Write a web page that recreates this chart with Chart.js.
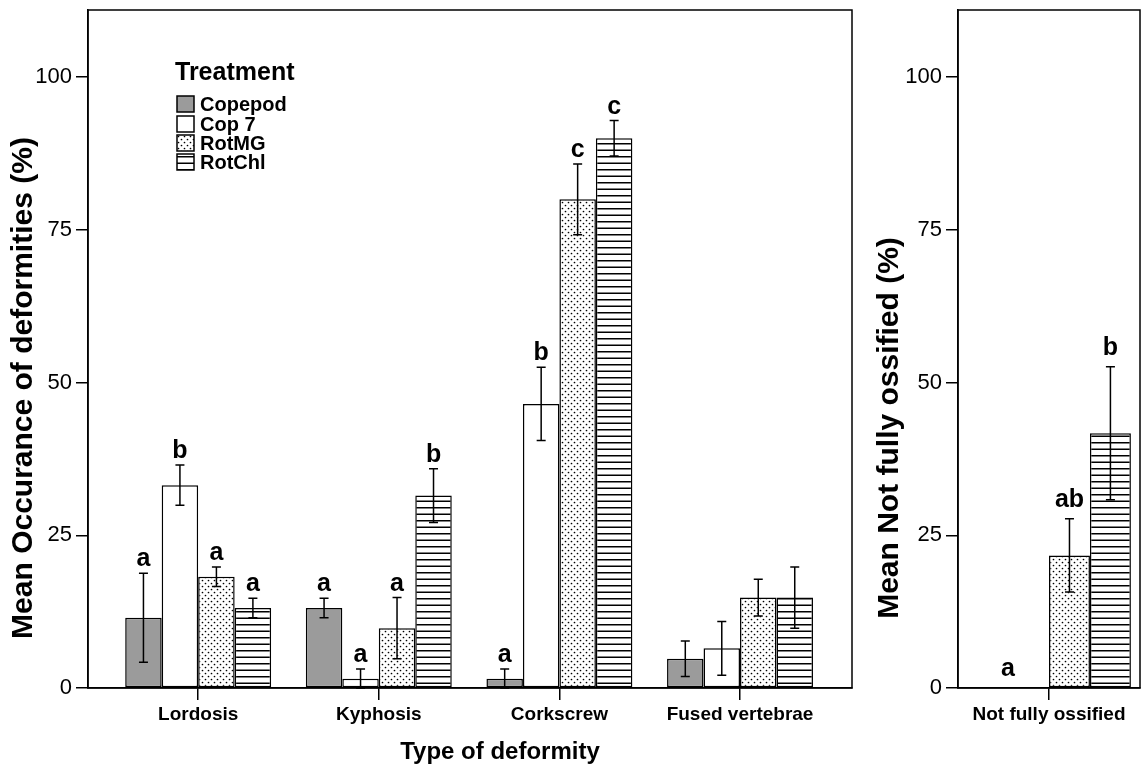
<!DOCTYPE html>
<html>
<head>
<meta charset="utf-8">
<script src="https://cdn.jsdelivr.net/npm/chart.js@4.4.1/dist/chart.umd.min.js"></script>
<style>
  body { margin: 0; background: #fff; }
  #wrap { position: relative; width: 1144px; height: 775px; }
  #left { position: absolute; left: 0; top: 0; }
  #right { position: absolute; left: 860px; top: 0; }
</style>
</head>
<body>
<div id="wrap">
  <canvas id="left" width="860" height="775"></canvas>
  <canvas id="right" width="284" height="775"></canvas>
</div>
<script>
// ---- data ----
const deformities = ['Lordosis', 'Kyphosis', 'Corkscrew', 'Fused vertebrae'];
const treatments = ['Copepod', 'Cop 7', 'RotMG', 'RotChl'];
const yTicks = [0, 25, 50, 75, 100];

// mean occurance (%), one value per deformity
const copepodMean = [11.5, 13.1, 1.5, 4.8];
const cop7Mean = [33.2, 1.5, 46.5, 6.5];
const rotMGMean = [18.2, 9.8, 80.0, 14.8];
const rotChlMean = [13.1, 31.5, 90.0, 14.8];

// error bar half lengths
const copepodErr = [7.3, 1.6, 1.6, 2.9];
const cop7Err = [3.3, 1.6, 6.0, 4.4];
const rotMGErr = [1.6, 5.0, 5.8, 3.0];
const rotChlErr = [1.6, 4.4, 2.9, 5.0];

// significance letters
const copepodLetters = ['a', 'a', 'a', ''];
const cop7Letters = ['b', 'a', 'b', ''];
const rotMGLetters = ['a', 'a', 'c', ''];
const rotChlLetters = ['a', 'b', 'c', ''];

// right panel: not fully ossified, one value per treatment
const ossifiedCategory = ['Not fully ossified'];
const ossifiedMean = [0, 0, 21.7, 41.7];
const ossifiedErr = [0, 0, 6.0, 10.9];
const ossifiedLetters = ['a', 'a', 'ab', 'b'];

const FONT = "'Liberation Sans', Arial, Helvetica, sans-serif";
Chart.defaults.font.family = FONT;
Chart.defaults.color = '#000';

// ---- fills ----
function makeFills(ctx) {
  const dot = document.createElement('canvas');
  dot.width = 6; dot.height = 6;
  let g = dot.getContext('2d');
  g.fillStyle = '#fff'; g.fillRect(0, 0, 6, 6);
  g.fillStyle = '#000';
  g.beginPath(); g.arc(1.5, 1.5, 0.85, 0, Math.PI * 2); g.fill();
  g.beginPath(); g.arc(4.5, 4.5, 0.85, 0, Math.PI * 2); g.fill();

  const hl = document.createElement('canvas');
  hl.width = 4; hl.height = 13;
  g = hl.getContext('2d');
  g.fillStyle = '#fff'; g.fillRect(0, 0, 4, 13);
  g.fillStyle = '#000';
  g.fillRect(0, 0, 4, 1.5);
  g.fillRect(0, 6.5, 4, 1.5);

  return ['#9b9b9b', '#ffffff', ctx.createPattern(dot, 'repeat'), ctx.createPattern(hl, 'repeat')];
}

// ---- plugins ----
const valueOf = d => (typeof d === 'number' ? d : d.y);

const errorBars = {
  id: 'errorBars',
  afterDatasetsDraw(chart) {
    const ctx = chart.ctx, y = chart.scales.y;
    ctx.save();
    ctx.strokeStyle = '#000';
    ctx.lineWidth = 1.5;
    chart.data.datasets.forEach((ds, di) => {
      chart.getDatasetMeta(di).data.forEach((bar, i) => {
        const e = ds.err[i];
        if (!e) return;
        const v = valueOf(ds.data[i]);
        const top = y.getPixelForValue(v + e);
        const bot = y.getPixelForValue(Math.max(0, v - e));
        ctx.beginPath();
        ctx.moveTo(bar.x, top); ctx.lineTo(bar.x, bot);
        ctx.moveTo(bar.x - 4.5, top); ctx.lineTo(bar.x + 4.5, top);
        ctx.moveTo(bar.x - 4.5, bot); ctx.lineTo(bar.x + 4.5, bot);
        ctx.stroke();
      });
    });
    ctx.restore();
  }
};

const letters = {
  id: 'letters',
  afterDatasetsDraw(chart, args, opts) {
    const ctx = chart.ctx, y = chart.scales.y;
    const n = chart.data.datasets[0].data.length;
    ctx.save();
    ctx.font = 'bold 25px ' + FONT;
    ctx.fillStyle = '#000';
    ctx.textAlign = 'center';
    ctx.textBaseline = 'alphabetic';
    for (let i = 0; i < n; i++) {
      const items = [];
      chart.data.datasets.forEach((ds, di) => {
        const t = ds.letters[i];
        if (!t) return;
        const top = y.getPixelForValue(valueOf(ds.data[i]) + ds.err[i]);
        const x = chart.getDatasetMeta(di).data[i].x;
        const last = items[items.length - 1];
        if (last && last.t === t && Math.abs(last.top - top) < 0.5) {
          last.xs.push(x);
        } else {
          items.push({ t, top, xs: [x] });
        }
      });
      items.forEach(it => {
        const x = it.xs.reduce((a, b) => a + b, 0) / it.xs.length;
        ctx.fillText(it.t, x, it.top - opts.offset);
      });
    }
    ctx.restore();
  }
};

const frame = {
  id: 'frame',
  afterDatasetsDraw(chart) {
    const { ctx, chartArea: a } = chart;
    ctx.save();
    ctx.strokeStyle = '#000';
    ctx.lineWidth = 1.5;
    ctx.strokeRect(a.left, a.top, a.right - a.left, a.bottom - a.top);
    ctx.restore();
  }
};

const titles = {
  id: 'titles',
  afterDraw(chart, args, opts) {
    const ctx = chart.ctx;
    ctx.save();
    ctx.fillStyle = '#000';
    ctx.textAlign = 'center';
    ctx.textBaseline = 'middle';
    opts.items.forEach(t => {
      ctx.save();
      ctx.font = 'bold ' + t.size + 'px ' + FONT;
      ctx.translate(t.x, t.y);
      if (t.rotate) ctx.rotate(-Math.PI / 2);
      ctx.fillText(t.text, 0, 0);
      ctx.restore();
    });
    ctx.restore();
  }
};

const treatmentLegend = {
  id: 'treatmentLegend',
  afterDraw(chart) {
    const ctx = chart.ctx;
    const rows = [104, 124, 143, 162];
    ctx.save();
    ctx.fillStyle = '#000';
    ctx.textAlign = 'left';
    ctx.textBaseline = 'middle';
    ctx.font = 'bold 25px ' + FONT;
    ctx.fillText('Treatment', 175, 73);
    ctx.font = 'bold 20px ' + FONT;
    chart.data.datasets.forEach((ds, i) => {
      const cy = rows[i];
      ctx.fillStyle = ds.backgroundColor;
      ctx.fillRect(177, cy - 8, 17, 16);
      ctx.strokeStyle = '#000';
      ctx.lineWidth = 1.5;
      ctx.strokeRect(177, cy - 8, 17, 16);
      ctx.fillStyle = '#000';
      ctx.fillText(ds.label, 200, cy + 1);
    });
    ctx.restore();
  }
};

// ---- shared axis pieces ----
function yAxis(width) {
  return {
    min: 0, max: 111,
    afterBuildTicks: s => { s.ticks = yTicks.map(v => ({ value: v })); },
    ticks: { font: { size: 22 }, color: '#000', padding: 4 },
    grid: { drawOnChartArea: false, drawTicks: true, tickLength: 12, color: '#000', lineWidth: 1.5 },
    border: { display: true, color: '#000', width: 1.5 },
    afterFit: s => { s.width = width; s.paddingTop = 0; s.paddingBottom = 0; }
  };
}
const xGrid = { offset: false, drawOnChartArea: false, drawTicks: true, tickLength: 12, color: '#000', lineWidth: 1.5 };
const xBorder = { display: true, color: '#000', width: 1.5 };
const xTickFont = { size: 19, weight: 'bold' };

// ---- left chart ----
const leftCtx = document.getElementById('left').getContext('2d');
const leftFills = makeFills(leftCtx);
const leftMeans = [copepodMean, cop7Mean, rotMGMean, rotChlMean];
const leftErrs = [copepodErr, cop7Err, rotMGErr, rotChlErr];
const leftLetters = [copepodLetters, cop7Letters, rotMGLetters, rotChlLetters];

new Chart(leftCtx, {
  type: 'bar',
  data: {
    datasets: treatments.map((t, k) => ({
      label: t,
      data: leftMeans[k].map((v, i) => ({ x: i, y: v })),
      err: leftErrs[k],
      letters: leftLetters[k],
      backgroundColor: leftFills[k],
      borderColor: '#000',
      borderWidth: 1.5,
      borderSkipped: false,
      barPercentage: 1,
      categoryPercentage: 0.808
    }))
  },
  options: {
    responsive: false,
    animation: false,
    layout: { padding: { top: 10, right: 8, left: 0, bottom: 0 } },
    scales: {
      x: {
        type: 'linear', min: -0.61, max: 3.62, offset: false,
        afterBuildTicks: s => { s.ticks = deformities.map((d, i) => ({ value: i })); },
        ticks: { callback: v => deformities[v], font: xTickFont, color: '#000', padding: 3, maxRotation: 0, autoSkip: false },
        grid: xGrid,
        border: xBorder,
        afterFit: s => { s.height = 87; s.paddingLeft = 0; s.paddingRight = 0; }
      },
      y: yAxis(88)
    },
    plugins: {
      legend: { display: false },
      tooltip: { enabled: false },
      letters: { offset: 7 },
      titles: { items: [
        { text: 'Type of deformity', x: 500, y: 752, size: 24 },
        { text: 'Mean Occurance of deformities (%)', x: 24, y: 388, size: 30, rotate: true }
      ] }
    }
  },
  plugins: [frame, errorBars, letters, titles, treatmentLegend]
});

// ---- right chart ----
const rightCtx = document.getElementById('right').getContext('2d');
const rightFills = makeFills(rightCtx);

new Chart(rightCtx, {
  type: 'bar',
  data: {
    labels: ossifiedCategory,
    datasets: treatments.map((t, k) => ({
      label: t,
      data: [ossifiedMean[k]],
      err: [ossifiedErr[k]],
      letters: [ossifiedLetters[k]],
      backgroundColor: rightFills[k],
      borderColor: '#000',
      borderWidth: 1.5,
      borderSkipped: false,
      barPercentage: 1,
      categoryPercentage: 0.9
    }))
  },
  options: {
    responsive: false,
    animation: false,
    layout: { padding: { top: 10, right: 4, left: 0, bottom: 0 } },
    scales: {
      x: {
        ticks: { font: xTickFont, color: '#000', padding: 3, maxRotation: 0 },
        grid: xGrid,
        border: xBorder,
        afterFit: s => { s.height = 87; s.paddingLeft = 0; s.paddingRight = 0; }
      },
      y: yAxis(98)
    },
    plugins: {
      legend: { display: false },
      tooltip: { enabled: false },
      letters: { offset: 12 },
      titles: { items: [
        { text: 'Mean Not fully ossified (%)', x: 30, y: 428, size: 30, rotate: true }
      ] }
    }
  },
  plugins: [frame, errorBars, letters, titles]
});
</script>
</body>
</html>
